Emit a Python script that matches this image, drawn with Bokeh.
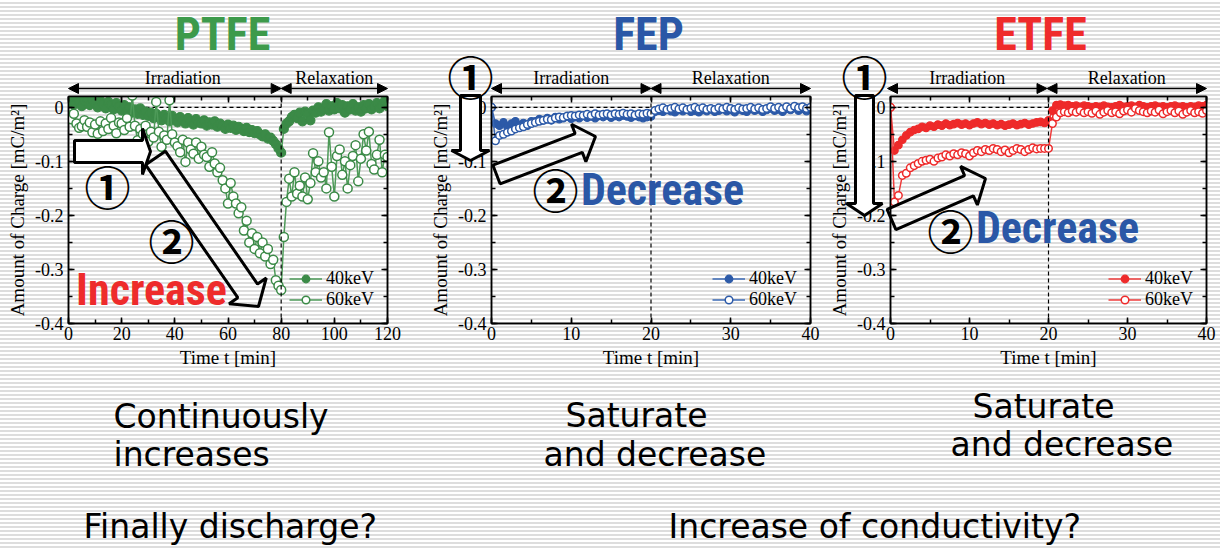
from bokeh.plotting import figure
from bokeh.models import (Range1d, LinearAxis, SingleIntervalTicker, Label, Arrow,
                          NormalHead, Span, PolyAnnotation, Legend, LegendItem,
                          CustomJSTickFormatter)
from bokeh.layouts import row, column
from bokeh.embed import file_html
from bokeh.resources import INLINE
import math

# ---------------- data ----------------
ptfe_t = list(range(0, 121))
ptfe_40 = [0.008, 0.015, 0.005, 0.018, 0.010, 0.002, 0.012, 0.016, 0.004, 0.014,
           0.008, 0.000, 0.012, 0.006, -0.002, 0.010, 0.004, -0.004, 0.008, 0.002,
           -0.006, 0.004, -0.008, 0.000, -0.010, -0.004, -0.012, -0.002, -0.014, -0.008,
           -0.016, -0.010, -0.020, -0.012, -0.018, -0.024, -0.014, -0.020, -0.026, -0.016,
           -0.022, -0.028, -0.018, -0.024, -0.030, -0.020, -0.026, -0.032, -0.022, -0.028,
           -0.030, -0.024, -0.034, -0.028, -0.032, -0.026, -0.036, -0.030, -0.034, -0.040,
           -0.032, -0.038, -0.034, -0.042, -0.036, -0.040, -0.044, -0.038, -0.046, -0.042,
           -0.048, -0.044, -0.050, -0.054, -0.050, -0.058, -0.056, -0.062, -0.068, -0.076,
           -0.084, -0.040, -0.030, -0.026, -0.018, -0.014, -0.020, -0.010, -0.026, -0.008,
           -0.012, -0.024, -0.006, -0.010, 0.000, -0.008, -0.004, 0.006, -0.006, 0.002,
           -0.004, 0.008, -0.002, 0.004, -0.010, 0.002, -0.004, 0.006, -0.006, 0.000,
           -0.008, 0.004, -0.002, 0.006, -0.004, 0.002, 0.008, -0.002, 0.004, 0.012,
           0.002]
ptfe_60 = [-0.015, -0.022, -0.012, -0.030, -0.038, -0.035, -0.024, -0.036, -0.028, -0.046,
           -0.032, -0.049, -0.026, -0.044, -0.030, -0.040, -0.020, -0.034, -0.048, -0.028,
           -0.030, -0.042, -0.020, -0.036, 0.022, -0.034, -0.061, -0.040, -0.050, -0.034,
           -0.064, -0.045, -0.056, 0.010, -0.045, -0.073, -0.052, -0.060, 0.013, -0.050,
           -0.065, -0.072, -0.083, -0.060, -0.101, -0.065, -0.078, -0.086, -0.065, -0.095,
           -0.073, -0.088, -0.092, -0.110, -0.083, -0.104, -0.120, -0.112, -0.135, -0.150,
           -0.178, -0.140, -0.165, -0.178, -0.196, -0.185, -0.228, -0.210, -0.250, -0.233,
           -0.262, -0.240, -0.270, -0.250, -0.276, -0.262, -0.290, -0.282, -0.320, -0.330,
           -0.338, -0.240, -0.175, -0.132, -0.165, -0.120, -0.160, -0.145, -0.165, -0.130,
           -0.170, -0.140, -0.085, -0.120, -0.100, -0.130, -0.120, -0.150, -0.046, -0.110,
           -0.165, -0.090, -0.078, -0.125, -0.100, -0.150, -0.107, -0.090, -0.070, -0.137,
           -0.095, -0.050, -0.080, -0.045, -0.105, -0.115, -0.088, -0.060, -0.120, -0.088,
           -0.092]

half_t = [i * 0.5 for i in range(81)]
fep_40 = [0.000, -0.030, -0.034, -0.028, -0.036, -0.030, -0.026, -0.033, -0.029, -0.034,
          -0.026, -0.026, -0.022, -0.024, -0.020, -0.024, -0.018, -0.022, -0.020, -0.017,
          -0.021, -0.018, -0.020, -0.016, -0.019, -0.017, -0.020, -0.016, -0.018, -0.015,
          -0.019, -0.016, -0.018, -0.015, -0.017, -0.019, -0.016, -0.018, -0.020, -0.018,
          -0.017, -0.008, -0.006, -0.008, -0.005, -0.007, -0.009, -0.005, -0.007, -0.004,
          -0.008, -0.006, -0.009, -0.005, -0.007, -0.004, -0.008, -0.006, -0.003, -0.007,
          -0.005, -0.009, -0.004, -0.006, -0.008, -0.003, -0.006, -0.004, -0.008, -0.005,
          -0.002, -0.006, -0.004, -0.008, -0.003, -0.005, -0.001, -0.006, -0.003, -0.007,
          -0.002]
fep_60 = [0.000, -0.062, -0.052, -0.050, -0.046, -0.044, -0.040, -0.038, -0.036, -0.032,
          -0.030, -0.028, -0.026, -0.024, -0.022, -0.023, -0.020, -0.018, -0.019, -0.016,
          -0.015, -0.016, -0.014, -0.015, -0.013, -0.015, -0.012, -0.014, -0.013, -0.012,
          -0.014, -0.012, -0.013, -0.011, -0.013, -0.012, -0.014, -0.012, -0.013, -0.011,
          -0.012, -0.006, -0.003, -0.001, -0.004, -0.002, 0.000, -0.003, -0.001, -0.004,
          -0.002, 0.000, -0.003, -0.001, -0.004, -0.002, -0.004, -0.001, -0.003, 0.000,
          -0.002, -0.004, -0.001, -0.003, -0.002, 0.000, -0.003, -0.001, -0.004, -0.002,
          0.001, -0.002, 0.000, -0.003, 0.001, -0.002, 0.002, -0.001, 0.001, -0.002,
          0.000]
etfe_40 = [0.000, -0.080, -0.070, -0.060, -0.052, -0.046, -0.042, -0.040, -0.036, -0.038,
           -0.034, -0.036, -0.032, -0.034, -0.030, -0.033, -0.031, -0.029, -0.032, -0.030,
           -0.033, -0.030, -0.028, -0.031, -0.029, -0.032, -0.030, -0.033, -0.031, -0.034,
           -0.032, -0.030, -0.033, -0.031, -0.029, -0.032, -0.030, -0.028, -0.027, -0.029,
           -0.024, -0.006, 0.004, 0.005, 0.003, 0.004, 0.002, 0.003, 0.001, 0.003,
           0.002, 0.000, 0.002, 0.001, 0.003, 0.001, 0.000, 0.002, 0.004, 0.001,
           0.002, 0.003, 0.001, 0.004, 0.002, 0.000, 0.002, 0.003, 0.001, 0.002,
           0.000, 0.002, 0.003, 0.001, 0.002, 0.000, 0.002, 0.001, 0.003, 0.002,
           0.004]
etfe_60 = [0.000, -0.175, -0.163, -0.126, -0.122, -0.112, -0.108, -0.104, -0.100, -0.098,
           -0.096, -0.100, -0.094, -0.092, -0.088, -0.090, -0.086, -0.088, -0.084, -0.086,
           -0.090, -0.084, -0.080, -0.082, -0.078, -0.080, -0.076, -0.078, -0.082, -0.079,
           -0.084, -0.080, -0.076, -0.078, -0.082, -0.078, -0.075, -0.077, -0.076, -0.076,
           -0.076, -0.030, -0.018, -0.010, -0.008, -0.010, -0.007, -0.009, -0.006, -0.010,
           -0.008, -0.011, -0.007, -0.013, -0.009, -0.006, -0.010, -0.008, -0.012, -0.007,
           -0.005, -0.009, -0.002, -0.006, -0.008, -0.010, -0.007, -0.009, -0.005, -0.012,
           -0.008, -0.006, -0.010, -0.007, -0.013, -0.009, -0.006, -0.010, -0.008, -0.011,
           -0.006]

series_labels = ["40keV", "60keV"]
phase_labels = ["Irradiation", "Relaxation"]

# ---------------- style constants ----------------
SERIF = "Liberation Serif"
BOLDC = "Roboto Condensed, Roboto, sans-serif"
CJK = "Noto Sans CJK JP"
SANS = "DejaVu Sans"
W, H = 1220, 548
TOP, BOT = 96, 323
YMIN, YMAX = -0.4, 0.02

panels = [
    dict(name="PTFE", off=0, w=410, fl=68, fr=387, xmax=120, xint=20, irr=80,
         t=ptfe_t, v40=ptfe_40, v60=ptfe_60, color="#3b8a47", lcol="#4d9a58",
         tcol="#3d9a4b", msize=9, irr_lab=43),
    dict(name="FEP", off=410, w=416, fl=491, fr=810, xmax=40, xint=10, irr=20,
         t=half_t, v40=fep_40, v60=fep_60, color="#2c5aa8", lcol="#3a68b5",
         tcol="#2a57a6", msize=7.5, irr_lab=10),
    dict(name="ETFE", off=826, w=394, fl=887, fr=1206, xmax=40, xint=10, irr=20,
         t=half_t, v40=etfe_40, v60=etfe_60, color="#ee2a2a", lcol="#ef3c3c",
         tcol="#ef2b2b", msize=7.5, irr_lab=10),
]

yfmt = CustomJSTickFormatter(code="""
if (Math.abs(tick) < 1e-9) { return "0"; }
return (tick < 0 ? "-" : "") + Math.abs(tick).toFixed(1);
""")


def make_panel(c):
    p = figure(width=c["w"], height=H, x_range=Range1d(0, c["xmax"]),
               y_range=Range1d(YMIN, YMAX), output_backend="svg", toolbar_location=None,
               min_border_left=c["fl"] - c["off"], min_border_right=c["off"] + c["w"] - c["fr"],
               min_border_top=TOP, min_border_bottom=H - BOT,
               background_fill_color=None, border_fill_color=None,
               outline_line_color="black", outline_line_width=1.5)
    p.xgrid.visible = False
    p.ygrid.visible = False

    xt = SingleIntervalTicker(interval=c["xint"], num_minor_ticks=2)
    yt = SingleIntervalTicker(interval=0.1, num_minor_ticks=2)
    bottom = p.xaxis[0]
    left = p.yaxis[0]
    bottom.ticker = xt
    left.ticker = yt
    left.formatter = yfmt
    top = LinearAxis(ticker=xt, major_label_text_font_size="0px",
                     major_label_text_color=None)
    right = LinearAxis(ticker=yt, major_label_text_font_size="0px",
                       major_label_text_color=None)
    for ax in (bottom, left, top, right):
        ax.axis_line_width = 1.5
        ax.axis_line_color = "black"
        ax.major_tick_in = 6
        ax.major_tick_out = 0
        ax.minor_tick_in = 4
        ax.minor_tick_out = 0
        ax.major_tick_line_width = 1.5
        ax.minor_tick_line_width = 1.5
        ax.major_tick_line_color = "black"
        ax.minor_tick_line_color = "black"
    for ax in (bottom, left):
        ax.major_label_text_font = SERIF
        ax.major_label_text_font_size = "18px"
        ax.major_label_text_color = "black"
        ax.axis_label_text_font = SERIF
        ax.axis_label_text_font_size = "19px"
        ax.axis_label_text_font_style = "normal"
        ax.axis_label_text_color = "black"
    bottom.major_label_standoff = 3
    bottom.axis_label_standoff = 4
    left.major_label_standoff = 5
    left.axis_label_standoff = 4
    bottom.axis_label = "Time t [min]"
    left.axis_label = "Amount of Charge [mC/m\u00b2]"
    p.add_layout(top, "above")
    p.add_layout(right, "right")

    # reference lines
    p.segment(x0=[0], y0=[0], x1=[c["irr"]], y1=[0], line_color="black",
              line_width=1.2, line_dash="4 3")
    p.add_layout(Span(location=c["irr"], dimension="height", line_color="black",
                      line_width=1.2, line_dash="4 3"))

    # data
    l40 = p.line(c["t"], c["v40"], line_color=c["lcol"], line_width=1.5)
    s40 = p.scatter(c["t"], c["v40"], size=c["msize"], marker="circle",
                    fill_color=c["color"], line_color=c["color"], line_width=1.2)
    l60 = p.line(c["t"], c["v60"], line_color=c["lcol"], line_width=1.5)
    s60 = p.scatter(c["t"], c["v60"], size=c["msize"], marker="circle",
                    fill_color="white", line_color=c["color"], line_width=1.5)

    leg = Legend(items=[LegendItem(label=series_labels[0], renderers=[l40, s40]),
                        LegendItem(label=series_labels[1], renderers=[l60, s60])],
                 location="bottom_right", background_fill_alpha=0,
                 border_line_color=None, label_text_font=SERIF,
                 label_text_color="black",
                 label_text_font_size="18px", glyph_width=33, glyph_height=19,
                 label_height=19, label_standoff=4, padding=2, spacing=-1, margin=13)
    p.add_layout(leg)
    return p


figs = [make_panel(c) for c in panels]

# ---------------- overlay with slide decorations (units = slide pixels) ----------------
deco = figure(width=W, height=H, x_range=Range1d(0, W), y_range=Range1d(H, 0),
              output_backend="svg", toolbar_location=None, title=None,
              min_border=0, x_axis_location=None, y_axis_location=None,
              background_fill_color=None, border_fill_color=None, outline_line_color=None)
deco.xgrid.visible = False
deco.ygrid.visible = False
deco.margin = (-H, 0, 0, 0)


def sx(c, x):
    return c["fl"] + x / c["xmax"] * (c["fr"] - c["fl"])


def base(y, size):
    # Label anchor for a text whose baseline should sit at slide row y
    return y - 0.36 * size


def block_arrow(S, T, hw, hhw, hl):
    dx, dy = T[0] - S[0], T[1] - S[1]
    L = math.hypot(dx, dy)
    ux, uy = dx / L, dy / L
    nx, ny = -uy, ux
    Bx, By = T[0] - hl * ux, T[1] - hl * uy
    return [(S[0] + hw * nx, S[1] + hw * ny), (Bx + hw * nx, By + hw * ny),
            (Bx + hhw * nx, By + hhw * ny), T,
            (Bx - hhw * nx, By - hhw * ny), (Bx - hw * nx, By - hw * ny),
            (S[0] - hw * nx, S[1] - hw * ny)]


decor = {
    "PTFE": dict(
        arrows=[(block_arrow((74, 151), (150, 151), 11, 23, 8), "white"),
                (block_arrow((155, 157.5), (258, 306), 12, 22.6, 19), None)],
        nums=[("\u2460", 107, 184), ("\u2461", 171, 238)],
        word=("Increase", 151, 305, "#ee2b2b"), tx=222),
    "FEP": dict(
        arrows=[(block_arrow((470, 95), (470, 160), 10, 19, 10), "white"),
                (block_arrow((496, 174), (595, 136), 10, 20, 18), None)],
        nums=[("\u2460", 470, 74), ("\u2461", 555, 187)],
        word=("Decrease", 662, 205, "#2a57a6"), tx=648),
    "ETFE": dict(
        arrows=[(block_arrow((864, 95), (864, 215), 9, 18, 12), "white"),
                (block_arrow((891, 219), (985, 178), 11, 21, 18), None)],
        nums=[("\u2460", 864, 74), ("\u2461", 950, 228)],
        word=("Decrease", 1057, 243, "#2a57a6"), tx=1040),
}

for c in panels:
    d = decor[c["name"]]
    # title
    deco.add_layout(Label(x=d["tx"], y=base(50, 46), text=c["name"], text_align="center",
                          text_baseline="alphabetic", text_font=BOLDC,
                          text_font_style="bold", text_font_size="46px",
                          text_color=c["tcol"]))
    # phase arrows and labels
    ya = 88
    for x0, x1 in ((0, c["irr"]), (c["irr"], c["xmax"])):
        deco.add_layout(Arrow(x_start=sx(c, x0), y_start=ya, x_end=sx(c, x1), y_end=ya,
                              line_width=1.5, line_color="black",
                              start=NormalHead(size=10, fill_color="black", line_color="black"),
                              end=NormalHead(size=10, fill_color="black", line_color="black")))
    for txt, xx in ((phase_labels[0], c["irr_lab"]), (phase_labels[1], (c["irr"] + c["xmax"]) / 2)):
        deco.add_layout(Label(x=sx(c, xx), y=base(84, 18), text=txt, text_align="center",
                              text_baseline="alphabetic", text_font=SERIF,
                              text_font_size="18px", text_color="black"))
    # block arrows
    for pts, fill in d["arrows"]:
        deco.add_layout(PolyAnnotation(xs=[a for a, b in pts], ys=[b for a, b in pts],
                                       fill_color=fill if fill else "white",
                                       fill_alpha=1.0 if fill else 0.0,
                                       line_color="black", line_alpha=1.0, line_width=3))
    for ch, px, py in d["nums"]:
        deco.add_layout(Label(x=px, y=py, text=ch, text_align="center",
                              text_baseline="middle", text_font=CJK, text_font_style="bold",
                              text_font_size="46px", text_color="black"))
    wtxt, wx, wy, wcol = d["word"]
    deco.add_layout(Label(x=wx, y=base(wy, 44), text=wtxt, text_align="center",
                          text_baseline="alphabetic", text_font=BOLDC, text_font_style="bold",
                          text_font_size="44px", text_color=wcol))

bottom_texts = [("Continuously", 113, 428), ("increases", 113, 466),
                ("Saturate", 565, 427), ("and decrease", 543, 466),
                ("Saturate", 972, 418), ("and decrease", 950, 456),
                ("Finally discharge?", 83, 538), ("Increase of conductivity?", 668, 538)]
for txt, x, y in bottom_texts:
    deco.add_layout(Label(x=x, y=base(y, 33), text=txt, text_align="left",
                          text_baseline="alphabetic", text_font=SANS,
                          text_font_size="33px", text_color="black"))

stripes = ("repeating-linear-gradient(to bottom, #ffffff 0px, #ffffff 2px, "
           "#dddddd 2px, #dddddd 4px)")
layout = column(row(*figs), deco, styles={"background-image": stripes})

open("out.html", "w").write(file_html(layout, INLINE))
